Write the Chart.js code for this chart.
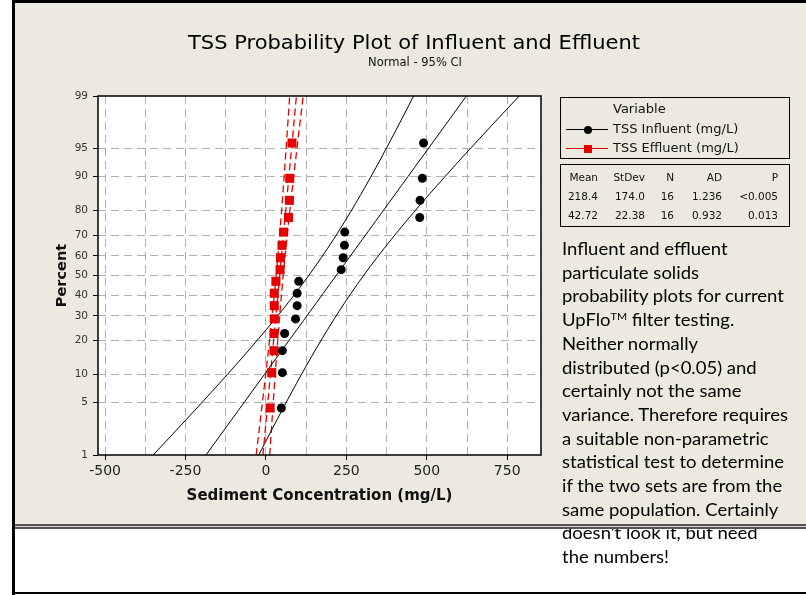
<!DOCTYPE html>
<html>
<head>
<meta charset="utf-8">
<title>TSS Probability Plot of Influent and Effluent</title>
<script src="https://cdn.jsdelivr.net/npm/chart.js@4.4.1/dist/chart.umd.min.js"></script>
<style>
  html, body { margin: 0; padding: 0; background: #fff; }
  #page { position: relative; width: 806px; height: 595px; overflow: hidden; background: #fff; font-family: "DejaVu Sans", sans-serif; color: #111; }
  #panel { position: absolute; left: 15px; top: 3px; width: 791px; height: 522px; background: #ECE9DE; }
  .bar { position: absolute; background: #000; }
  #chart { position: absolute; left: 0; top: 0; }
  .txt { position: absolute; white-space: nowrap; transform-origin: 0 50%; }
  #title { top: 30px; font-size: 20px; color: #000; }
  #subtitle { top: 54px; font-size: 13px; color: #111; }
  .box { position: absolute; left: 560px; width: 230px; border: 1px solid #000; box-sizing: border-box; }
  #legend { top: 97px; height: 62px; }
  #stats { top: 164px; height: 63px; }
  .lg { font-size: 13px; line-height: 14px; }
  .tb { font-size: 10.5px; line-height: 14px; }
  .sym { position: absolute; height: 0; }
  #note { position: absolute; left: 562px; top: 237px; font-family: Lato, "Open Sans", sans-serif; font-size: 17px; line-height: 23.7px; color: #000; transform-origin: 0 0; }
  #note div { white-space: nowrap; }
  #note sup { font-size: 10px; vertical-align: 6px; line-height: 0; }
  #sep { position: absolute; left: 15px; top: 524px; width: 791px; height: 1px; border-top: 2px solid #555; border-bottom: 2px solid #555; background: #d8d8d8; }
</style>
</head>
<body>
<div id="page">
  <div id="panel"></div>
  <canvas id="chart" width="806" height="595"></canvas>
  <div id="title" class="txt">TSS Probability Plot of Influent and Effluent</div>
  <div id="subtitle" class="txt">Normal - 95% CI</div>
  <div id="legend" class="box"></div>
  <div id="stats" class="box"></div>
  <div id="note">
    <div>Influent and effluent</div>
    <div>particulate solids</div>
    <div>probability plots for current</div>
    <div>UpFlo<sup>TM</sup> filter testing.</div>
    <div>Neither normally</div>
    <div>distributed (p&lt;0.05) and</div>
    <div>certainly not the same</div>
    <div id="longest">variance. Therefore requires</div>
    <div>a suitable non-parametric</div>
    <div>statistical test to determine</div>
    <div>if the two sets are from the</div>
    <div>same population. Certainly</div>
    <div>doesn’t look it, but need</div>
    <div>the numbers!</div>
  </div>
  <div id="sep"></div>
  <div class="bar" style="left:12px; top:0; width:3px; height:595px;"></div>
  <div class="bar" style="left:12px; top:0; width:794px; height:3px;"></div>
  <div class="bar" style="left:12px; top:592px; width:794px; height:2px;"></div>
</div>
<script>
// probability axis: percent labels, and the x-axis grid positions
const percentTicks = [1, 5, 10, 20, 30, 40, 50, 60, 70, 80, 90, 95, 99];
const xTicks = [-500, -375, -250, -125, 0, 125, 250, 375, 500, 625, 750];

// plotting positions (percent) of the 16 ranked samples
const plotPercent = [4.3, 10.4, 16.5, 22.6, 28.7, 34.8, 40.9, 47.0, 53.0, 59.1, 65.2, 71.3, 77.4, 83.5, 89.6, 95.7];

// sorted TSS samples, mg/L
const influent = [48, 51, 51, 58, 92, 97, 97, 102, 234, 240, 244, 245, 478, 479, 486, 490];
const effluent = [13, 18, 25, 25, 26, 26, 26, 31, 44, 45, 50, 55, 70, 73, 74, 81];

// summary table
const seriesNames = ['TSS Influent (mg/L)', 'TSS Effluent (mg/L)'];
const means = [218.4, 42.72];
const stdevs = [174.0, 22.38];
const counts = [16, 16];
const adStats = ['1.236', '0.932'];
const pValues = ['<0.005', '0.013'];

const seriesColors = ['#000000', '#e60000'];

// inverse normal CDF (Acklam)
function probit(p) {
  const a = [-39.69683028665376, 220.9460984245205, -275.9285104469687, 138.3577518672690, -30.66479806614716, 2.506628277459239];
  const b = [-54.47609879822406, 161.5858368580409, -155.6989798598866, 66.80131188771972, -13.28068155288572];
  const c = [-0.007784894002430293, -0.3223964580411365, -2.400758277161838, -2.549732539343734, 4.374664141464968, 2.938163982698783];
  const d = [0.007784695709041462, 0.3224671290700398, 2.445134137142996, 3.754408661907416];
  const pl = 0.02425;
  let q, r;
  if (p < pl) {
    q = Math.sqrt(-2 * Math.log(p));
    return (((((c[0]*q+c[1])*q+c[2])*q+c[3])*q+c[4])*q+c[5]) / ((((d[0]*q+d[1])*q+d[2])*q+d[3])*q+1);
  }
  if (p > 1 - pl) {
    q = Math.sqrt(-2 * Math.log(1 - p));
    return -(((((c[0]*q+c[1])*q+c[2])*q+c[3])*q+c[4])*q+c[5]) / ((((d[0]*q+d[1])*q+d[2])*q+d[3])*q+1);
  }
  q = p - 0.5; r = q * q;
  return (((((a[0]*r+a[1])*r+a[2])*r+a[3])*r+a[4])*r+a[5])*q / (((((b[0]*r+b[1])*r+b[2])*r+b[3])*r+b[4])*r+1);
}

const zLo = probit(0.01);
const zHi = probit(0.99);

// fitted normal line (side 0) and 95% CI bounds (side -1 / +1)
function fitCurve(k, side) {
  const pts = [];
  const steps = 40;
  for (let i = 0; i <= steps; i++) {
    const z = zLo + (zHi - zLo) * i / steps;
    const half = 1.96 * stdevs[k] * Math.sqrt((1 + z * z / 2) / counts[k]);
    pts.push({ x: means[k] + stdevs[k] * z + side * half, y: z });
  }
  return pts;
}

function samplePoints(values) {
  return values.map((v, i) => ({ x: v, y: probit(plotPercent[i] / 100) }));
}

const datasets = [
  { label: seriesNames[0], data: samplePoints(influent), showLine: false,
    pointStyle: 'circle', pointRadius: 4.5, pointBackgroundColor: seriesColors[0], pointBorderWidth: 0 },
  { label: seriesNames[1], data: samplePoints(effluent), showLine: false,
    pointStyle: 'rect', pointRadius: 6.4, pointBackgroundColor: seriesColors[1], pointBorderWidth: 0 }
];
[-1, 0, 1].forEach(side => {
  datasets.push({ data: fitCurve(0, side), showLine: true, pointRadius: 0,
    borderColor: seriesColors[0], borderWidth: 1, tension: 0 });
  datasets.push({ data: fitCurve(1, side), showLine: true, pointRadius: 0,
    borderColor: seriesColors[1], borderWidth: 1.3, borderDash: [7, 4], tension: 0 });
});

const plotFrame = {
  id: 'plotFrame',
  beforeDraw(chart) {
    const { ctx, chartArea: a } = chart;
    ctx.save();
    ctx.fillStyle = '#fff';
    ctx.fillRect(a.left, a.top, a.width, a.height);
    ctx.restore();
  },
  afterDatasetsDraw(chart) {
    const { ctx, chartArea: a } = chart;
    ctx.save();
    ctx.strokeStyle = '#000';
    ctx.lineWidth = 1.5;
    ctx.strokeRect(a.left, a.top, a.width, a.height);
    ctx.restore();
  }
};

new Chart(document.getElementById('chart'), {
  type: 'scatter',
  data: { datasets },
  plugins: [plotFrame],
  options: {
    responsive: false,
    animation: false,
    devicePixelRatio: 1,
    layout: { padding: { left: 44, right: 265, top: 96, bottom: 85 } },
    plugins: { legend: { display: false }, tooltip: { enabled: false } },
    scales: {
      x: {
        type: 'linear', min: -522, max: 855,
        afterBuildTicks: s => { s.ticks = xTicks.map(v => ({ value: v })); },
        afterFit: s => { s.height = 55; },
        border: { display: false, dash: [8, 5] },
        grid: {
          color: '#b0b0b0', lineWidth: 1,
          tickLength: 5, tickWidth: 1, tickBorderDash: [],
          tickColor: c => (c.tick && c.tick.value % 250 === 0) ? '#000' : 'rgba(0,0,0,0)'
        },
        ticks: {
          autoSkip: false, maxRotation: 0, padding: 3, color: '#222',
          font: { family: 'DejaVu Sans', size: 14 },
          callback: v => (v % 250 === 0 ? String(v) : '')
        },
        title: {
          display: true, text: 'Sediment Concentration (mg/L)', color: '#111',
          font: { family: 'DejaVu Sans', size: 15, weight: 'bold' },
          padding: { top: 0, bottom: 5 }
        }
      },
      y: {
        type: 'linear', min: zLo, max: zHi,
        afterBuildTicks: s => { s.ticks = percentTicks.map(p => ({ value: probit(p / 100) })); },
        afterFit: s => { s.width = 54; },
        border: { display: false, dash: [8, 5] },
        grid: {
          lineWidth: 1,
          color: c => (c.index === 0 || c.index === percentTicks.length - 1) ? 'rgba(0,0,0,0)' : '#b0b0b0',
          tickLength: 5, tickWidth: 1, tickBorderDash: [], tickColor: '#000'
        },
        ticks: {
          padding: 5, color: '#333',
          font: { family: 'DejaVu Sans', size: 10.5 },
          callback: (v, i) => String(percentTicks[i])
        },
        title: {
          display: true, text: 'Percent', color: '#111',
          font: { family: 'DejaVu Sans', size: 14.5, weight: 'bold' },
          padding: { top: 10, bottom: 0 }
        }
      }
    }
  }
});

// stretch a text element to a given width, left-anchored
function placeText(el, left, width) {
  const w = el.getBoundingClientRect().width;
  el.style.left = left + 'px';
  el.style.transform = 'scaleX(' + (width / w) + ')';
}
placeText(document.getElementById('title'), 188, 452);
placeText(document.getElementById('subtitle'), 368, 94);

function addText(parent, text, left, cy, cls, align, width) {
  const el = document.createElement('div');
  el.className = 'txt ' + (cls || '');
  el.textContent = text;
  el.style.top = (cy - 7) + 'px';
  if (align === 'right') {
    el.style.left = (left - width) + 'px';
    el.style.width = width + 'px';
    el.style.textAlign = 'right';
  } else {
    el.style.left = left + 'px';
  }
  parent.appendChild(el);
  return el;
}

// legend box
const legend = document.getElementById('legend');
addText(legend, 'Variable', 52, 11, 'lg');
seriesNames.forEach((name, k) => {
  const cy = 31 + k * 19;
  addText(legend, name, 52, cy, 'lg');
  const line = document.createElement('div');
  line.className = 'sym';
  line.style.cssText = 'left:5px; top:' + cy + 'px; width:42px; border-top:1px solid ' + seriesColors[k] + ';';
  legend.appendChild(line);
  const mark = document.createElement('div');
  mark.className = 'sym';
  const sz = 8;
  mark.style.cssText = 'left:' + (27 - sz / 2) + 'px; top:' + (cy - sz / 2 + 0.5) + 'px; width:' + sz + 'px; height:' + sz + 'px; background:' + seriesColors[k] + ';' + (k === 0 ? 'border-radius:50%;' : '');
  legend.appendChild(mark);
});

// statistics table
const stats = document.getElementById('stats');
const colRight = [37, 84, 113, 161, 217];
const header = ['Mean', 'StDev', 'N', 'AD', 'P'];
header.forEach((h, j) => addText(stats, h, colRight[j], 12, 'tb', 'right', 60));
means.forEach((m, k) => {
  const row = [String(m), stdevs[k].toFixed(stdevs[k] < 100 ? 2 : 1), String(counts[k]), adStats[k], pValues[k]];
  row.forEach((t, j) => addText(stats, t, colRight[j], 31 + k * 19, 'tb', 'right', 70));
});

// note text block
const note = document.getElementById('note');
const lw = document.getElementById('longest').getBoundingClientRect().width;
note.style.transform = 'scaleX(' + (226 / lw) + ')';
</script>
</body>
</html>
